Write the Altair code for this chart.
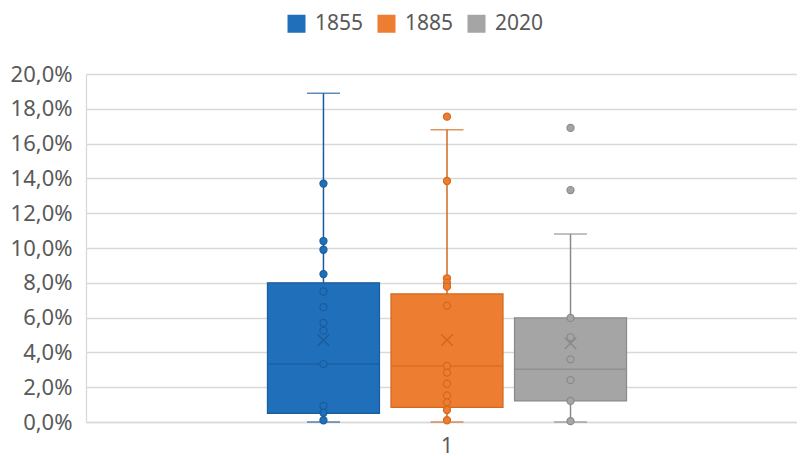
import altair as alt
import pandas as pd

# ---- data ----
series = ["1855", "1885", "2020"]
category = "1"
q1 = [0.5, 0.84, 1.21]
median = [3.33, 3.22, 3.03]
q3 = [8.0, 7.36, 5.98]
whisker_low = [0.0, 0.0, 0.0]
whisker_high = [18.9, 16.8, 10.8]
mean = [4.7, 4.71, 4.52]

points_1855 = [13.7, 10.4, 9.9, 8.5, 7.5, 6.6, 5.7, 5.25, 3.33, 0.92, 0.53, 0.1]
points_1885 = [17.55, 13.85, 8.26, 8.0, 7.78, 6.69, 3.22, 2.84, 2.2, 1.53, 1.13, 0.69, 0.1]
points_2020 = [16.9, 13.33, 5.98, 4.87, 3.6, 2.41, 1.21, 0.05]

y_ticks = [0, 2, 4, 6, 8, 10, 12, 14, 16, 18, 20]

fill_colors = ["#1F6FBA", "#ED7D31", "#A5A5A5"]
line_colors = ["#1A5C9C", "#D2691F", "#8A8A8A"]

# ---- tables ----
stats = pd.DataFrame({
    "series": series,
    "line": series,
    "cat": [category] * 3,
    "q1": q1, "median": median, "q3": q3,
    "lo": whisker_low, "hi": whisker_high, "mean": mean,
})
pts = pd.DataFrame(
    [{"series": "1855", "cat": category, "v": v} for v in points_1855]
    + [{"series": "1885", "cat": category, "v": v} for v in points_1885]
    + [{"series": "2020", "cat": category, "v": v} for v in points_2020]
)
pts["line"] = pts["series"]

FONT = "Noto Sans"
TXT = "#595959"
GRID = "#D9D9D9"

x_enc = alt.X(
    "cat:N", title=None,
    scale=alt.Scale(paddingInner=0, paddingOuter=0.49, align=0.5156),
    axis=alt.Axis(labelAngle=0, ticks=False, domain=True, domainColor=GRID,
                  domainWidth=1.3, labelFontSize=21, labelColor=TXT,
                  labelFont=FONT, labelPadding=13, grid=False),
)
xo_enc = alt.XOffset("series:N",
                     scale=alt.Scale(domain=series, paddingInner=0.093, paddingOuter=0))
y_scale = alt.Scale(domain=[0, 20], nice=False)
y_axis = alt.Axis(values=y_ticks, title=None, ticks=False, domain=True,
                  domainColor=GRID, domainWidth=1.3, gridColor=GRID, gridWidth=1.3,
                  labelFontSize=22, labelColor=TXT, labelFont=FONT, labelPadding=14,
                  labelExpr="replace(format(datum.value, '.1f'), '.', ',') + '%'")

legend = alt.Legend(title=None, orient="none", legendX=200, legendY=-61,
                    direction="horizontal", symbolType="square", symbolSize=324,
                    symbolStrokeWidth=0, labelFontSize=21, labelColor=TXT,
                    labelFont=FONT, columnPadding=12, labelOffset=8, padding=0)
color_enc = alt.Color("series:N", scale=alt.Scale(domain=series, range=fill_colors),
                      legend=legend)
# line colour scales take their domain from the data (sorted), so they are not
# merged with the colour legend
stroke_enc = alt.Stroke("line:N", scale=alt.Scale(range=line_colors), legend=None)
fill_line_enc = alt.Fill("line:N", scale=alt.Scale(range=line_colors), legend=None)

base = alt.Chart(stats)

whisk = base.mark_rule(strokeWidth=1.5).encode(
    x=x_enc, xOffset=xo_enc,
    y=alt.Y("lo:Q", scale=y_scale, axis=y_axis), y2="hi:Q",
    stroke=stroke_enc,
)
box = base.mark_bar(strokeWidth=1.2).encode(
    x=x_enc, xOffset=xo_enc,
    y=alt.Y("q1:Q", scale=y_scale, axis=y_axis), y2="q3:Q",
    color=color_enc, stroke=stroke_enc,
)
med = base.mark_tick(size=112, thickness=1.5).encode(
    x=x_enc, xOffset=xo_enc,
    y=alt.Y("median:Q", scale=y_scale, axis=y_axis),
    fill=fill_line_enc,
)
cap_hi = base.mark_tick(size=33, thickness=1.5).encode(
    x=x_enc, xOffset=xo_enc,
    y=alt.Y("hi:Q", scale=y_scale, axis=y_axis),
    fill=fill_line_enc,
)
cap_lo = base.mark_tick(size=33, thickness=1.5).encode(
    x=x_enc, xOffset=xo_enc,
    y=alt.Y("lo:Q", scale=y_scale, axis=y_axis),
    fill=fill_line_enc,
)
dots = alt.Chart(pts).mark_point(shape="circle", filled=True, size=50,
                                 strokeWidth=1.2, opacity=1).encode(
    x=x_enc, xOffset=xo_enc,
    y=alt.Y("v:Q", scale=y_scale, axis=y_axis),
    color=color_enc, stroke=stroke_enc,
)
mean_x = base.mark_point(shape="M-1,-1L1,1M-1,1L1,-1", filled=False, size=130,
                         strokeWidth=1.5, opacity=1).encode(
    x=x_enc, xOffset=xo_enc,
    y=alt.Y("mean:Q", scale=y_scale, axis=y_axis),
    stroke=stroke_enc,
)

chart = alt.layer(whisk, box, med, cap_hi, cap_lo, dots, mean_x).properties(
    width=711, height=348,
    autosize=alt.AutoSizeParams(type="none"),
    padding={"left": 78, "right": 0, "top": 66, "bottom": 38},
    background="white",
).configure_view(stroke=None)

chart.save("out.html", embed_options={"renderer": "svg", "actions": False})
